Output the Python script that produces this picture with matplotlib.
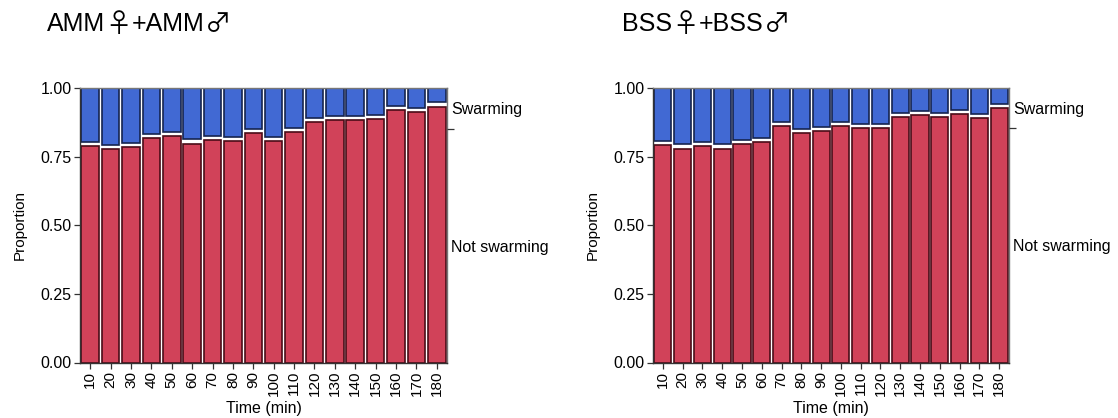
import matplotlib
matplotlib.use("Agg")
import matplotlib.pyplot as plt
import numpy as np
from matplotlib.ticker import FixedLocator

# Sampling times (minutes)
times = [10, 20, 30, 40, 50, 60, 70, 80, 90, 100, 110, 120, 130, 140, 150, 160, 170, 180]

# Proportion of individuals NOT swarming at each time; swarming = 1 - value
amm_not_swarming = [0.796, 0.784, 0.792, 0.826, 0.831, 0.805, 0.817, 0.814, 0.843,
                    0.814, 0.848, 0.885, 0.890, 0.890, 0.895, 0.928, 0.920, 0.940]
bss_not_swarming = [0.801, 0.787, 0.796, 0.787, 0.804, 0.809, 0.868, 0.842, 0.851,
                    0.868, 0.860, 0.860, 0.901, 0.909, 0.901, 0.914, 0.897, 0.936]

# Titles split into text and sex-symbol pieces
title_parts = [
    ["AMM", "\u2640", "+AMM", "\u2642"],
    ["BSS", "\u2640", "+BSS", "\u2642"],
]
state_labels = ["Swarming", "Not swarming"]
y_ticks = [0.0, 0.25, 0.5, 0.75, 1.0]
y_tick_labels = ["0.00", "0.25", "0.50", "0.75", "1.00"]
x_title = "Time (min)"
y_title = "Proportion"

swarm_fill, swarm_edge = "#4169D3", "#15244F"
rest_fill, rest_edge = "#D14259", "#4A0C18"

plt.rcParams['font.family'] = ['Liberation Sans', 'DejaVu Sans']

W, H = 1118, 418
fig = plt.figure(figsize=(W / 100, H / 100), dpi=100)
renderer = fig.canvas.get_renderer()

panels = [
    (title_parts[0], amm_not_swarming, (80, 447), 47),
    (title_parts[1], bss_not_swarming, (653, 1009), 622),
]
top_px, bottom_px = 88, 362.5
gap = 0.0075
bar_w = 0.86


def draw_title(parts, x_px, y_px, size):
    """Draw title pieces side by side; the sex symbols use a thin-stroked CJK face."""
    x = x_px
    for i, part in enumerate(parts):
        if i % 2 == 1:
            fig.text((x + 12) / W, 1 - (y_px + 1) / H, part, fontsize=size * 1.05,
                     family=['Noto Sans CJK JP', 'DejaVu Sans'], ha='center', va='baseline')
            x += 26
        else:
            t = fig.text(x / W, 1 - y_px / H, part, fontsize=size,
                         family=['Liberation Sans'], ha='left', va='baseline')
            x += t.get_window_extent(renderer=renderer).width + 1


for parts, not_swarm, (x0, x1), title_x in panels:
    ax = fig.add_axes([x0 / W, 1 - bottom_px / H, (x1 - x0) / W, (bottom_px - top_px) / H])
    pos = np.arange(1, len(times) + 1)
    p = np.asarray(not_swarm)

    ax.bar(pos, p - gap, bottom=0, width=bar_w, color=rest_fill,
           edgecolor=rest_edge, linewidth=1.2, zorder=2)
    ax.bar(pos, 1 - p - gap, bottom=p + gap, width=bar_w, color=swarm_fill,
           edgecolor=swarm_edge, linewidth=1.2, zorder=2)

    ax.set_xlim(0.5, len(times) + 0.5)
    ax.set_ylim(0, 1)
    ax.set_xticks(pos)
    ax.set_xticklabels([str(t) for t in times], rotation=90, fontsize=11)
    ax.set_yticks(y_ticks)
    ax.set_yticklabels(y_tick_labels, fontsize=11.5)
    ax.tick_params(axis='both', length=4, width=0.9, color="#333333", pad=2)
    ax.set_xlabel(x_title, fontsize=11.5, labelpad=3)
    ax.set_ylabel(y_title, fontsize=11, labelpad=10)
    for name, sp in ax.spines.items():
        sp.set_color("#333333" if name in ("left", "bottom") else "#777777")
        sp.set_linewidth(1.0)

    # Secondary axis: category labels at the middle of each mean share
    m = p.mean()
    ax2 = ax.twinx()
    ax2.set_ylim(0, 1)
    ax2.set_yticks([(1 + m) / 2, m / 2])
    ax2.set_yticklabels(state_labels, fontsize=11.5)
    ax2.yaxis.set_minor_locator(FixedLocator([m]))
    ax2.tick_params(axis='y', which='major', length=0, pad=3)
    ax2.tick_params(axis='y', which='minor', length=5, width=0.9, color="#333333")
    for sp in ax2.spines.values():
        sp.set_visible(False)

    draw_title(parts, title_x, 31, 18)

fig.savefig("out.png", dpi=100)
